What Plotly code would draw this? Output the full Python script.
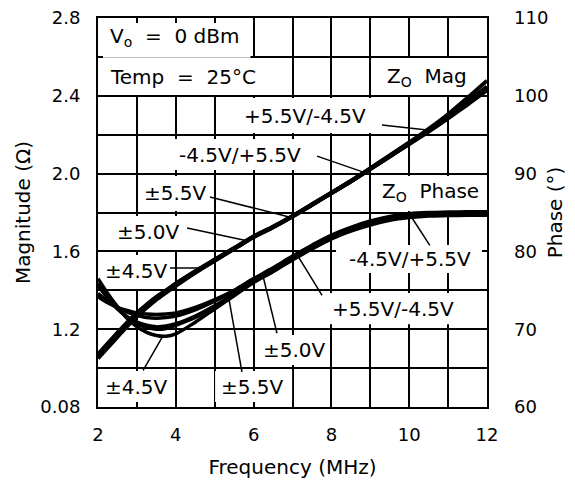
import numpy as np
import plotly.graph_objects as go

# Frequency grid (MHz)
freq = [2, 2.25, 2.5, 2.75, 3, 3.25, 3.5, 3.75, 4, 4.5, 5, 5.5, 6, 6.5,
        7, 7.5, 8, 8.5, 9, 9.5, 10, 10.5, 11, 11.5, 12]

# Output impedance magnitude (ohms) for each supply pair
mag_45 = [1.05, 1.105, 1.16, 1.215, 1.265, 1.31, 1.352, 1.388, 1.423, 1.49, 1.552, 1.613,
          1.673, 1.724, 1.78, 1.84, 1.90, 1.96, 2.024, 2.088, 2.152, 2.216, 2.284, 2.355, 2.428]
mag_50 = [1.06, 1.115, 1.17, 1.225, 1.275, 1.32, 1.36, 1.395, 1.43, 1.495, 1.555, 1.615,
          1.675, 1.725, 1.78, 1.84, 1.90, 1.96, 2.025, 2.09, 2.155, 2.22, 2.29, 2.362, 2.438]
mag_55 = [1.072, 1.127, 1.182, 1.235, 1.283, 1.327, 1.366, 1.40, 1.435, 1.498, 1.558, 1.617,
          1.677, 1.727, 1.782, 1.842, 1.902, 1.962, 2.027, 2.092, 2.158, 2.224, 2.295, 2.37, 2.447]
mag_p55m45 = [1.064, 1.12, 1.175, 1.23, 1.279, 1.323, 1.363, 1.398, 1.432, 1.497, 1.557, 1.616,
              1.676, 1.726, 1.781, 1.841, 1.901, 1.962, 2.027, 2.093, 2.16, 2.23, 2.305, 2.39, 2.478]
mag_m45p55 = [1.056, 1.11, 1.165, 1.22, 1.27, 1.315, 1.356, 1.392, 1.427, 1.492, 1.553, 1.614,
              1.674, 1.724, 1.779, 1.839, 1.899, 1.959, 2.023, 2.088, 2.153, 2.218, 2.286, 2.358, 2.432]

# Output impedance phase (degrees) for each supply pair
ph_45 = [76.5, 74.6, 72.9, 71.4, 70.3, 69.6, 69.2, 69.1, 69.4, 70.9, 72.6, 74.3,
         76.0, 77.4, 78.9, 80.3, 81.6, 82.6, 83.4, 84.0, 84.35, 84.55, 84.6, 84.65, 84.65]
ph_50 = [75.6, 74.0, 72.6, 71.6, 70.9, 70.5, 70.3, 70.4, 70.7, 71.7, 73.0, 74.6,
         76.2, 77.6, 79.1, 80.5, 81.8, 82.8, 83.6, 84.2, 84.55, 84.75, 84.8, 84.85, 84.85]
ph_55 = [74.2, 73.4, 72.8, 72.4, 72.1, 71.95, 71.9, 71.95, 72.1, 72.8, 73.8, 75.0,
         76.5, 77.9, 79.4, 80.8, 82.1, 83.1, 83.9, 84.5, 84.85, 85.0, 85.05, 85.1, 85.1]
ph_p55m45 = [75.9, 74.2, 72.7, 71.5, 70.7, 70.2, 70.0, 70.1, 70.5, 71.5, 72.9, 74.5,
             76.1, 77.5, 79.0, 80.4, 81.7, 82.7, 83.5, 84.1, 84.45, 84.65, 84.7, 84.75, 84.75]
ph_m45p55 = [74.6, 73.6, 72.8, 72.2, 71.8, 71.5, 71.4, 71.5, 71.7, 72.5, 73.6, 74.9,
             76.4, 77.8, 79.3, 80.7, 82.0, 83.0, 83.8, 84.4, 84.7, 84.9, 84.95, 85.0, 85.0]

x_ticks = [2, 4, 6, 8, 10, 12]
mag_ticks = [0.8, 1.2, 1.6, 2.0, 2.4, 2.8]
mag_ticktext = ["0.08", "1.2", "1.6", "2.0", "2.4", "2.8"]
phase_ticks = [60, 70, 80, 90, 100, 110]

FONT = "DejaVu Sans"
BLACK = "black"

fig = go.Figure()

for series in [mag_45, mag_50, mag_55, mag_p55m45, mag_m45p55]:
    fig.add_trace(go.Scatter(x=freq, y=series, mode="lines", yaxis="y",
                             line=dict(color=BLACK, width=4, shape="spline", smoothing=0.8),
                             hoverinfo="skip"))

for series in [ph_45, ph_50, ph_55, ph_p55m45, ph_m45p55]:
    fig.add_trace(go.Scatter(x=freq, y=series, mode="lines", yaxis="y2",
                             line=dict(color=BLACK, width=3.5, shape="spline", smoothing=0.8),
                             hoverinfo="skip"))

# White label panels sit over the grid but under the curves
panels = [
    (2.0, 5.92, 2.595, 2.80),
    (2.0, 6.91, 2.404, 2.594),
    (9.04, 12.0, 2.404, 2.594),
    (5.19, 9.87, 2.209, 2.389),
    (3.59, 7.60, 2.019, 2.178),
    (9.04, 12.0, 1.808, 1.988),
    (3.08, 4.93, 1.808, 1.988),
    (2.05, 4.24, 1.607, 1.782),
    (2.0, 3.85, 1.407, 1.581),
    (8.12, 11.92, 1.489, 1.633),
    (7.66, 11.56, 1.226, 1.386),
    (6.16, 7.96, 1.016, 1.170),
    (2.0, 3.98, 0.81, 0.985),
    (5.01, 6.99, 0.81, 0.985),
]
for x0, x1, y0, y1 in panels:
    fig.add_shape(type="rect", xref="x", yref="y", x0=x0, x1=x1, y0=y0, y1=y1,
                  fillcolor="white", line=dict(width=0), layer="between")

# Leader lines from labels to curves
def leader(x0, y0, x1, series, yref):
    y1 = float(np.interp(x1, freq, series))
    fig.add_shape(type="line", xref="x", yref=yref, x0=x0, y0=y0, x1=x1, y1=y1,
                  line=dict(color=BLACK, width=1.5), layer="above")

leader(9.30, 2.250, 10.46, mag_p55m45, "y")
leader(7.63, 2.090, 8.86, mag_m45p55, "y")
leader(4.88, 1.880, 6.94, mag_55, "y")
leader(4.29, 1.720, 5.83, mag_50, "y")
leader(3.85, 1.515, 4.70, mag_45, "y")
leader(10.53, 80.77, 10.02, ph_m45p55, "y2")
leader(7.76, 74.36, 7.14, ph_p55m45, "y2")
leader(6.60, 69.50, 6.24, ph_50, "y2")
leader(3.16, 64.70, 3.67, ph_45, "y2")
leader(5.70, 64.50, 5.34, ph_55, "y2")

labels = [
    ("V<sub>o</sub>  =  0 dBm", 2.26, 2.70, "left"),
    ("Temp  =  25°C", 2.26, 2.497, "left"),
    ("Z<sub>O</sub>  Mag", 10.45, 2.497, "center"),
    ("+5.5V/-4.5V", 7.32, 2.296, "center"),
    ("-4.5V/+5.5V", 5.65, 2.096, "center"),
    ("Z<sub>O</sub>  Phase", 10.55, 1.905, "center"),
    ("±5.5V", 4.0, 1.900, "center"),
    ("±5.0V", 3.30, 1.700, "center"),
    ("±4.5V", 2.98, 1.500, "center"),
    ("-4.5V/+5.5V", 10.02, 1.561, "center"),
    ("+5.5V/-4.5V", 9.58, 1.304, "center"),
    ("±5.0V", 7.06, 1.093, "center"),
    ("±4.5V", 2.98, 0.903, "center"),
    ("±5.5V", 5.98, 0.903, "center"),
]
for text, x, y, anchor in labels:
    fig.add_annotation(text=text, x=x, y=y, xref="x", yref="y", xanchor=anchor,
                       yanchor="middle", showarrow=False,
                       font=dict(family=FONT, size=20, color=BLACK))

grid = dict(showgrid=True, gridcolor=BLACK, gridwidth=1.5)
minor_common = dict(ticks="inside", ticklen=5, tickwidth=1.5, tickcolor=BLACK,
                    showgrid=True, gridcolor=BLACK, gridwidth=1.5)

fig.update_layout(
    width=575, height=487,
    margin=dict(l=98, r=88, t=18, b=80, autoexpand=False),
    paper_bgcolor="white", plot_bgcolor="white",
    showlegend=False,
    font=dict(family=FONT, size=18, color=BLACK),
    xaxis=dict(range=[2, 12], tickvals=x_ticks, ticks="inside", ticklen=5, tickwidth=1.5,
               tickcolor=BLACK, showline=True, linecolor=BLACK, linewidth=2, mirror="ticks",
               zeroline=False, ticklabelstandoff=10, automargin=False,
               minor=dict(dtick=1, tick0=2, **minor_common),
               title=dict(text="Frequency (MHz)", font=dict(size=20), standoff=16),
               **grid),
    yaxis=dict(range=[0.8, 2.8], tickvals=mag_ticks, ticktext=mag_ticktext, ticks="inside",
               ticklen=5, tickwidth=1.5, tickcolor=BLACK, showline=True, linecolor=BLACK,
               linewidth=2, mirror="ticks", zeroline=False, ticklabelstandoff=12,
               automargin=False,
               minor=dict(dtick=0.2, tick0=0.8, **minor_common),
               title=dict(text="Magnitude (Ω)", font=dict(size=20), standoff=4),
               **grid),
    yaxis2=dict(range=[60, 110], tickvals=phase_ticks, overlaying="y", side="right",
                ticks="", showgrid=False, zeroline=False, showline=False,
                ticklabelstandoff=26, automargin=False,
                title=dict(text="Phase (°)", font=dict(size=20), standoff=0)),
)

fig.write_html("out.html")
